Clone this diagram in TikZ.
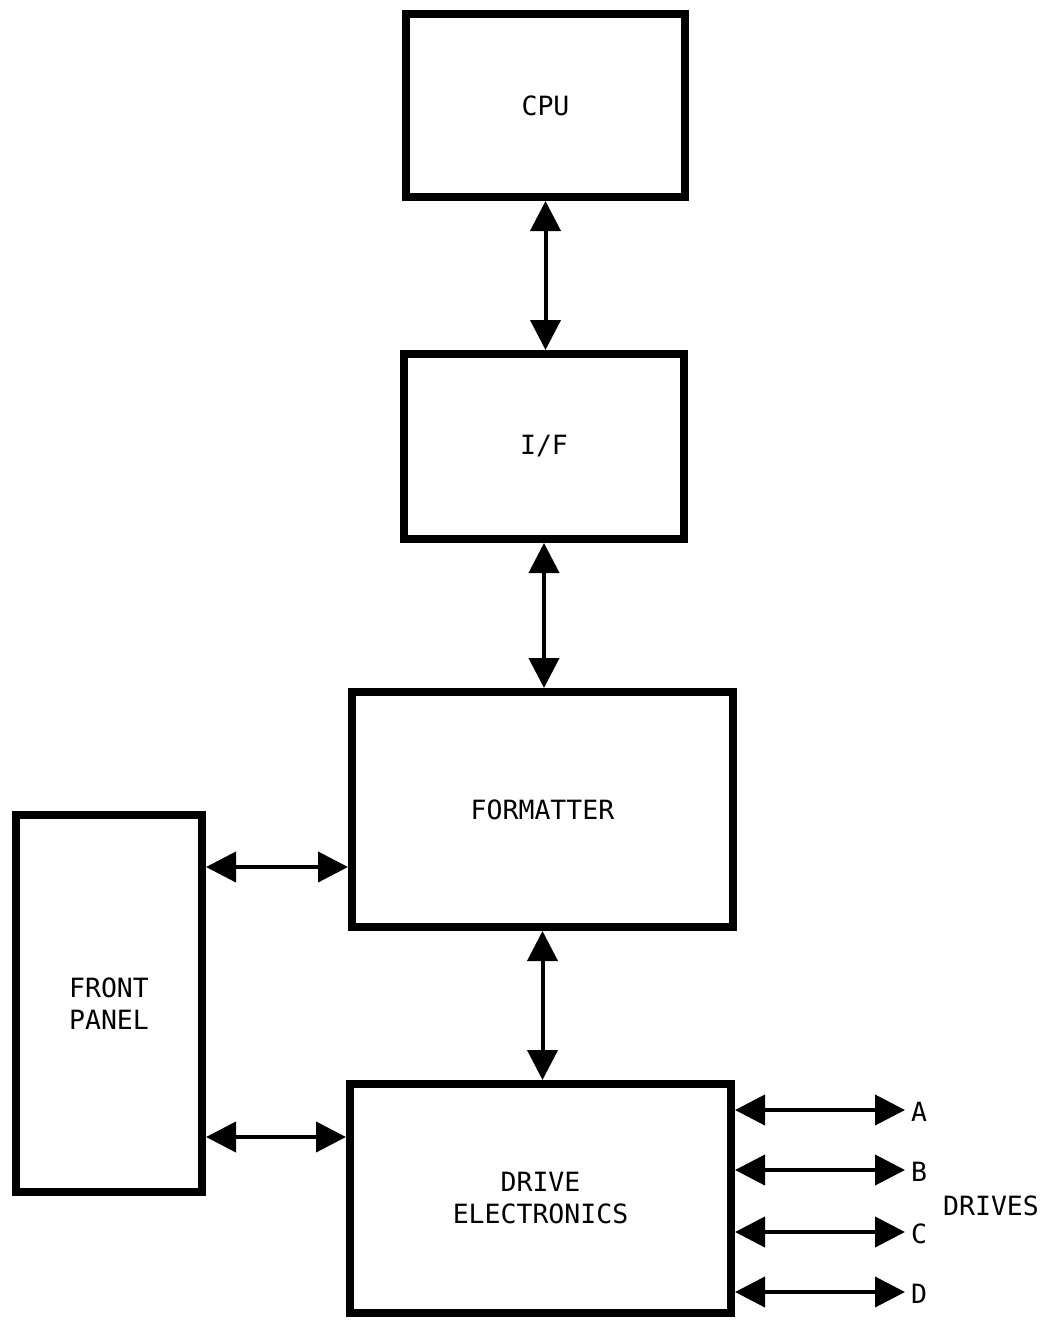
\documentclass[tikz,border=0pt]{standalone}
\usepackage{fontspec}
\setmonofont{DejaVu Sans Mono}
\usetikzlibrary{arrows.meta}
\begin{document}
\begin{tikzpicture}[x=1pt,y=-1pt,
  blk/.style={draw,line width=8pt,inner sep=0pt,align=center,font=\ttfamily\fontsize{26.5}{32}\selectfont},
  lbl/.style={inner sep=0pt,font=\ttfamily\fontsize{26.5}{32}\selectfont},
  dbl/.style={line width=4pt,{Triangle[length=30pt,width=30pt]}-{Triangle[length=30pt,width=30pt]}}]
\useasboundingbox (0,0) rectangle (1044,1322);
\node[blk,minimum width=279pt,minimum height=183pt] (cpu) at (545.5,105.5) {CPU};
\node[blk,minimum width=280pt,minimum height=185pt] (if) at (544,446.5) {I/F};
\node[blk,minimum width=381pt,minimum height=235pt] (fmt) at (542.5,809.5) {FORMATTER};
\node[blk,minimum width=186pt,minimum height=377pt] (fp) at (109,1003.5) {FRONT\\PANEL};
\node[blk,minimum width=381pt,minimum height=229pt] (de) at (540.5,1198.5) {DRIVE\\ELECTRONICS};
\draw[dbl] (cpu.south) -- (cpu.south |- if.north);
\draw[dbl] (if.south) -- (if.south |- fmt.north);
\draw[dbl] (fmt.south) -- (fmt.south |- de.north);
\draw[dbl] (fp.east |- 0,867) -- (fmt.west |- 0,867);
\draw[dbl] (fp.east |- 0,1137) -- (de.west |- 0,1137);
\coordinate (da) at (905,1110);
\coordinate (db) at (905,1170);
\coordinate (dc) at (905,1232);
\coordinate (dd) at (905,1292);
\draw[dbl] (de.east |- da) -- (da);
\draw[dbl] (de.east |- db) -- (db);
\draw[dbl] (de.east |- dc) -- (dc);
\draw[dbl] (de.east |- dd) -- (dd);
\node[lbl,anchor=west] (la) at (911,1112) {A};
\node[lbl,anchor=west] (lb) at (911,1172) {B};
\node[lbl,anchor=west] (lc) at (911,1234) {C};
\node[lbl,anchor=west] (ld) at (911,1294) {D};
\node[lbl] (drv) at (991,1206) {DRIVES};
\end{tikzpicture}
\end{document}
